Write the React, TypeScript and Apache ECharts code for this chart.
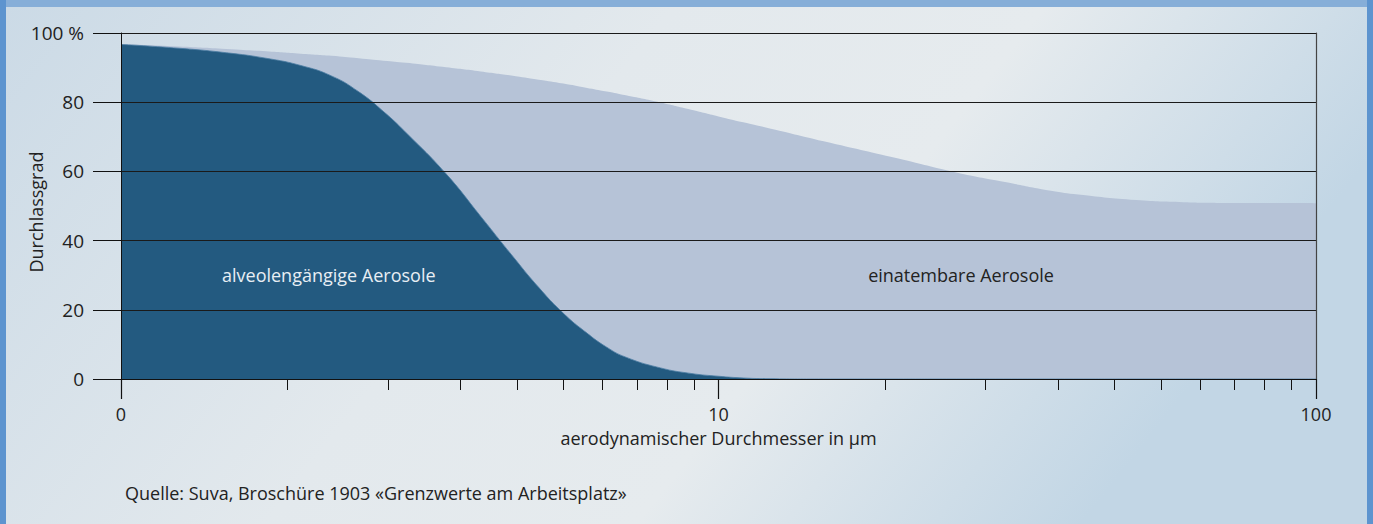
import React, { useEffect, useRef } from "react";
import * as echarts from "echarts";

// aerodynamic diameter in µm
const diameters = [1, 1.25, 1.5, 1.75, 2, 2.25, 2.5, 2.75, 3, 3.5, 4, 4.5, 5, 5.5, 6, 6.5, 7, 8, 9, 10, 11, 12, 15, 20, 25, 30, 36, 40, 50, 60, 70, 80, 100];
// einatembare Aerosole (%)
const inhalable = [96.8, 96.1, 95.4, 94.7, 94.0, 93.4, 92.7, 92.0, 91.4, 90.1, 88.9, 87.7, 86.5, 85.4, 84.2, 83.1, 82.0, 79.9, 77.8, 75.9, 74.2, 72.7, 68.7, 63.7, 59.7, 57.0, 54.4, 53.3, 51.7, 51.1, 50.9, 50.85, 50.8];
// alveolengängige Aerosole (%)
const respirable = [96.7, 95.6, 94.3, 92.7, 90.6, 87.6, 83.0, 77.3, 71.2, 59.3, 47.0, 36.0, 26.5, 19.0, 13.5, 9.2, 6.3, 3.2, 1.6, 0.8, 0.3, 0.1, 0, 0, 0, 0, 0, 0, 0, 0, 0, 0, 0];

const yTicks = [0, 20, 40, 60, 80, 100];
const xMajorTicks = [1, 10, 100];
const xMinorTicks = [1.9, 2.8, 3.7, 4.6, 5.5, 6.4, 7.3, 8.2, 9.1, 19, 28, 37, 46, 55, 64, 73, 82, 91];
const xTickLabels: Record<number, string> = { 1: "0", 10: "10", 100: "100" };

const FONT = "'Open Sans', 'Noto Sans', sans-serif";

export default function App() {
  const ref = useRef<HTMLDivElement>(null);
  useEffect(() => {
    document.body.style.margin = "0";
    if (!ref.current) return;
    const chart = echarts.init(ref.current, undefined, { renderer: "svg" });
    const option: any = {
      animation: false,
      textStyle: { fontFamily: FONT },
      grid: { left: 121, right: 57, top: 33, bottom: 145, containLabel: false, outerBoundsMode: "none" },
      graphic: [
        { type: "rect", z: -20, silent: true, shape: { x: 0, y: 0, width: 1373, height: 524 }, style: { fill: "#5d94cf" } },
        { type: "rect", z: -20, silent: true, shape: { x: 6, y: 0, width: 1361, height: 7 }, style: { fill: "#86aed8" } },
        {
          type: "rect", z: -19, silent: true,
          shape: { x: 6, y: 7, width: 1361, height: 517 },
          style: {
            fill: new echarts.graphic.LinearGradient(0, 0, 1, 0.3, [
              { offset: 0, color: "#cbdae6" },
              { offset: 0.45, color: "#e3e9ed" },
              { offset: 0.7, color: "#e6ebee" },
              { offset: 1, color: "#c2d6e5" },
            ]),
          },
        },
        { type: "text", z: 10, silent: true, x: 36, y: 212, rotation: Math.PI / 2, style: { text: "Durchlassgrad", fill: "#222", font: `18px ${FONT}`, align: "center", verticalAlign: "middle" } },
        { type: "text", z: 10, silent: true, x: 222, y: 275, style: { text: "alveolengängige Aerosole", fill: "#e8eef4", font: `18px ${FONT}`, verticalAlign: "middle" } },
        { type: "text", z: 10, silent: true, x: 961, y: 275, style: { text: "einatembare Aerosole", fill: "#222", font: `18px ${FONT}`, align: "center", verticalAlign: "middle" } },
        { type: "text", z: 10, silent: true, x: 125, y: 493, style: { text: "Quelle: Suva, Broschüre 1903 «Grenzwerte am Arbeitsplatz»", fill: "#222", font: `18px ${FONT}`, verticalAlign: "middle" } },
      ],
      xAxis: [
        {
          type: "log", logBase: 10, min: 1, max: 100, position: "bottom", z: 5,
          axisLine: { show: true, lineStyle: { color: "#111", width: 1 } },
          axisTick: { show: true, customValues: xMinorTicks, length: 11, lineStyle: { color: "#111", width: 1 } },
          axisLabel: { show: false },
          splitLine: { show: false },
          minorTick: { show: false },
        },
        {
          type: "log", logBase: 10, min: 1, max: 100, position: "bottom", offset: 0, z: 5,
          name: "aerodynamischer Durchmesser in µm", nameLocation: "middle", nameGap: 50,
          nameTextStyle: { fontSize: 18, color: "#222", fontFamily: FONT },
          axisLine: { show: false },
          axisTick: { show: true, customValues: xMajorTicks, length: 20, lineStyle: { color: "#111", width: 1.2 } },
          axisLabel: {
            show: true, customValues: xMajorTicks, margin: 26, fontSize: 18, color: "#222", fontFamily: FONT,
            formatter: (v: number) => xTickLabels[Math.round(v)] ?? "",
          },
          splitLine: { show: false },
        },
      ],
      yAxis: [
        {
          type: "value", min: 0, max: 100, interval: 20, position: "left", z: 5,
          axisLine: { show: true, lineStyle: { color: "#111", width: 1 } },
          axisTick: { show: true, length: 28, inside: false, customValues: yTicks, lineStyle: { color: "#111", width: 1 } },
          axisLabel: {
            margin: 37, fontSize: 19, color: "#222", fontFamily: FONT,
            formatter: (v: number) => (v === 100 ? "100 %" : String(v)),
          },
          splitLine: { show: true, lineStyle: { color: "#1a1a1a", width: 1 } },
        },
        {
          type: "value", min: 0, max: 100, interval: 20, position: "right", z: 5,
          axisLine: { show: true, lineStyle: { color: "#444", width: 1.2 } },
          axisTick: { show: false },
          axisLabel: { show: false },
          splitLine: { show: false },
        },
      ],
      series: [
        {
          name: "einatembare Aerosole", type: "line", xAxisIndex: 0, yAxisIndex: 0,
          data: diameters.map((d, i) => [d, inhalable[i]]),
          smooth: 0.5, showSymbol: false, symbol: "none",
          lineStyle: { width: 0 }, areaStyle: { color: "#b6c3d7", opacity: 1 }, z: 2,
        },
        {
          name: "alveolengängige Aerosole", type: "line", xAxisIndex: 0, yAxisIndex: 0,
          data: diameters.map((d, i) => [d, respirable[i]]),
          smooth: 0.5, showSymbol: false, symbol: "none",
          lineStyle: { width: 0.8, color: "#4d7ea3" }, areaStyle: { color: "#235a80", opacity: 1 }, z: 3,
        },
      ],
    };
    chart.setOption(option);
    return () => chart.dispose();
  }, []);
  return <div ref={ref} style={{ width: 1373, height: 524 }} />;
}
